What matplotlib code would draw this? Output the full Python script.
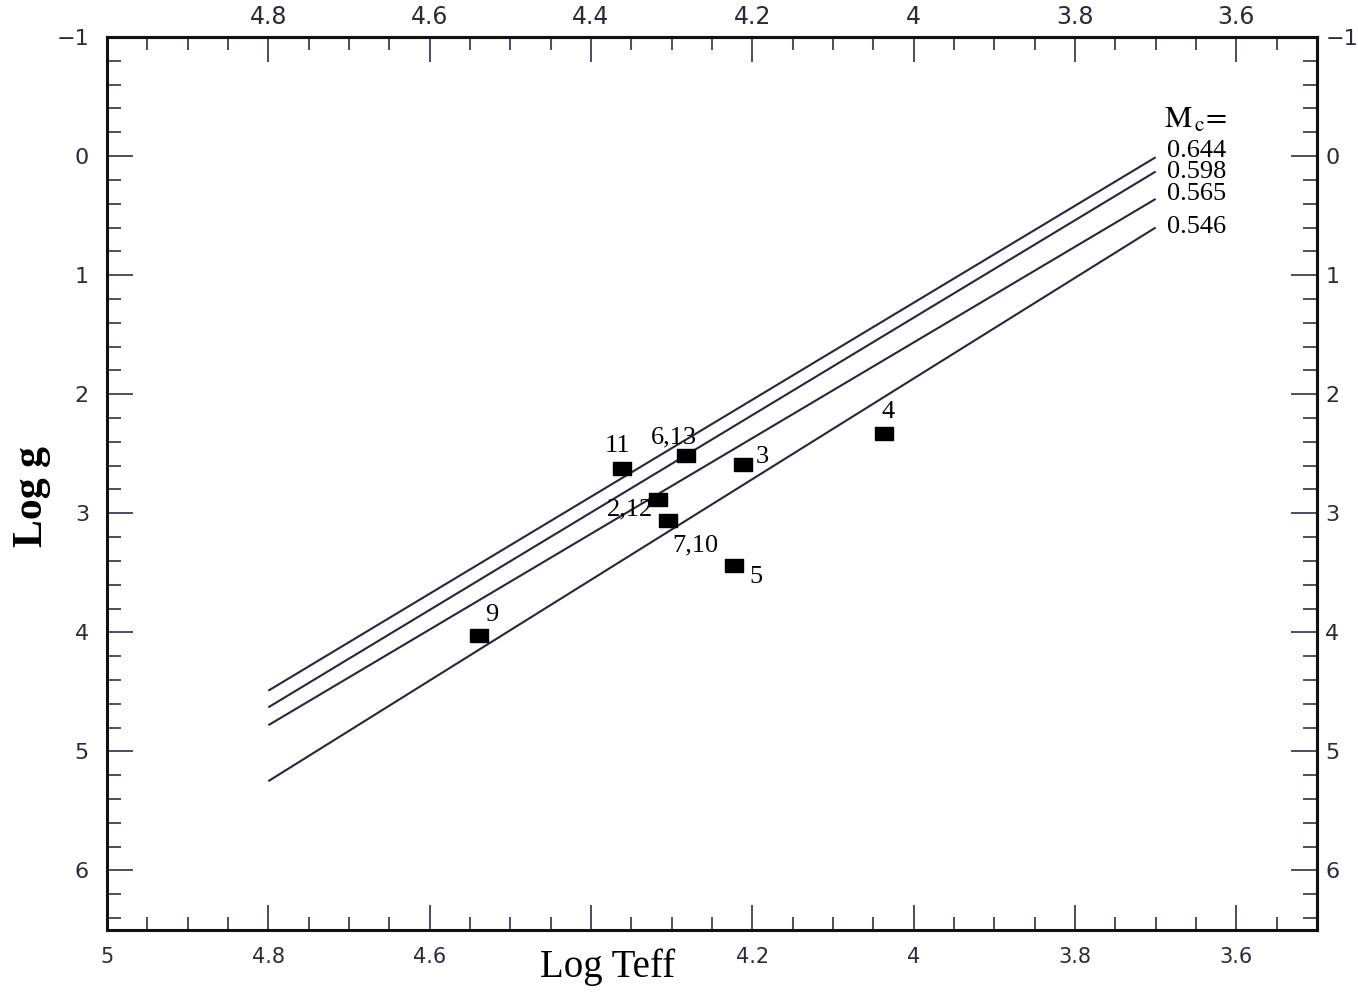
import matplotlib
matplotlib.use("Agg")
import matplotlib.pyplot as plt
from matplotlib.ticker import MultipleLocator, FixedLocator, FuncFormatter

# Core-mass tracks (log g vs log Teff), straight segments
core_masses = ["0.644", "0.598", "0.565", "0.546"]
track_logteff = [4.8, 3.70]
track_logg_start = [4.49, 4.63, 4.78, 5.25]
track_logg_end = [0.01, 0.13, 0.36, 0.60]

# Observed stars
star_labels = ["11", "6,13", "3", "4", "2,12", "7,10", "5", "9"]
star_logteff = [4.362, 4.282, 4.212, 4.037, 4.317, 4.305, 4.223, 4.539]
star_logg = [2.624, 2.511, 2.586, 2.326, 2.880, 3.056, 3.434, 4.021]

# Axis ticks
x_major_ticks = [5.0, 4.8, 4.6, 4.4, 4.2, 4.0, 3.8, 3.6]
bottom_tick_labels = ["5", "4.8", "4.6", "", "4.2", "4", "3.8", "3.6"]
top_tick_labels = ["", "4.8", "4.6", "4.4", "4.2", "4", "3.8", "3.6"]
y_major_ticks = [-1, 0, 1, 2, 3, 4, 5, 6]

# label offsets (points) for the star names
star_label_offsets = [(-3, 16), (-9, 12.5), (14, 5), (3, 15), (-20, -7.5),
                      (20, -18.5), (16, -8.5), (9, 14)]
mass_label_offsets = [(8, 4.5), (8, 0), (8, 3.6), (8, 0.5)]

SPINE = "#111111"
TICKC = "#2e2e4a"
LABC = "#2a2a3a"
LINEC = "#262640"

plt.rcParams["mathtext.fontset"] = "stix"

fig = plt.figure(figsize=(13.58, 9.94), dpi=100)
W, H = 1358, 994
ax = fig.add_axes([107 / W, 1 - 930 / H, (1317 - 107) / W, (930 - 37) / H])
ax.set_xlim(5.0, 3.5)
ax.set_ylim(6.5, -1.0)

# tracks
for gs, ge, m, off in zip(track_logg_start, track_logg_end, core_masses, mass_label_offsets):
    ax.plot(track_logteff, [gs, ge], color=LINEC, lw=1.5, solid_capstyle="butt")
    ax.annotate(m, xy=(track_logteff[1], ge), xytext=off, textcoords="offset points",
                ha="left", va="center", fontsize=19, family="Liberation Serif",
                color="black")
ax.annotate(r"$\mathrm{M}_{\,\mathrm{c}}\!\mathrm{=}$", xy=(track_logteff[1], track_logg_end[0]),
            xytext=(6, 27), textcoords="offset points", ha="left", va="center",
            fontsize=22, color="black")

# stars
rect = [(-1, -0.72), (1, -0.72), (1, 0.72), (-1, 0.72), (-1, -0.72)]
ax.plot(star_logteff, star_logg, linestyle="none", marker=rect, markersize=13,
        color="black", zorder=5)
for lab, x, y, off in zip(star_labels, star_logteff, star_logg, star_label_offsets):
    ax.annotate(lab, xy=(x, y), xytext=off, textcoords="offset points",
                ha="center", va="center", fontsize=19, family="Liberation Serif",
                color="black", zorder=6)

fmt = FuncFormatter(lambda v, p: ("%g" % v).replace("-", "\u2212"))

# bottom / left axis
ax.xaxis.set_major_locator(FixedLocator(x_major_ticks))
ax.xaxis.set_minor_locator(MultipleLocator(0.05))
ax.set_xticklabels(bottom_tick_labels)
ax.yaxis.set_major_locator(FixedLocator(y_major_ticks))
ax.yaxis.set_minor_locator(MultipleLocator(0.2))
ax.yaxis.set_major_formatter(fmt)
ax.tick_params(axis="x", which="major", direction="in", length=18, width=1.2,
               color=TICKC, labelsize=15, labelcolor=LABC, pad=12)
ax.tick_params(axis="x", which="minor", direction="in", length=9.5, width=1.2, color=TICKC)
ax.tick_params(axis="y", which="major", direction="in", length=19, width=1.2,
               color=TICKC, labelsize=16, labelcolor=LABC, pad=13)
ax.tick_params(axis="y", which="minor", direction="in", length=10, width=1.2, color=TICKC)
for lab in ax.get_xticklabels():
    lab.set_family("DejaVu Sans")

# top axis
top = ax.secondary_xaxis("top")
top.xaxis.set_major_locator(FixedLocator(x_major_ticks))
top.xaxis.set_minor_locator(MultipleLocator(0.05))
top.set_xticklabels(top_tick_labels)
top.tick_params(axis="x", which="major", direction="in", length=18, width=1.2,
                color=TICKC, labelsize=17, labelcolor=LABC, pad=6)
top.tick_params(axis="x", which="minor", direction="in", length=9, width=1.2, color=TICKC)

# right axis
right = ax.secondary_yaxis("right")
right.yaxis.set_major_locator(FixedLocator(y_major_ticks))
right.yaxis.set_minor_locator(MultipleLocator(0.2))
right.yaxis.set_major_formatter(fmt)
right.tick_params(axis="y", which="major", direction="in", length=19, width=1.2,
                  color=TICKC, labelsize=16, labelcolor=LABC, pad=6)
right.tick_params(axis="y", which="minor", direction="in", length=10, width=1.2, color=TICKC)

for s in list(ax.spines.values()) + [top.spines["top"], right.spines["right"]]:
    s.set_linewidth(2.2)
    s.set_color(SPINE)

ax.set_xlabel("Log Teff", fontsize=28, family="Liberation Serif", color="black")
ax.xaxis.set_label_coords((608 - 107) / 1210, -0.021)
ax.set_ylabel("Log g", fontsize=30, family="Liberation Serif", fontweight="bold",
              color="black")
ax.yaxis.set_label_coords(-0.046, 0.485)

fig.savefig("out.png", dpi=100)
